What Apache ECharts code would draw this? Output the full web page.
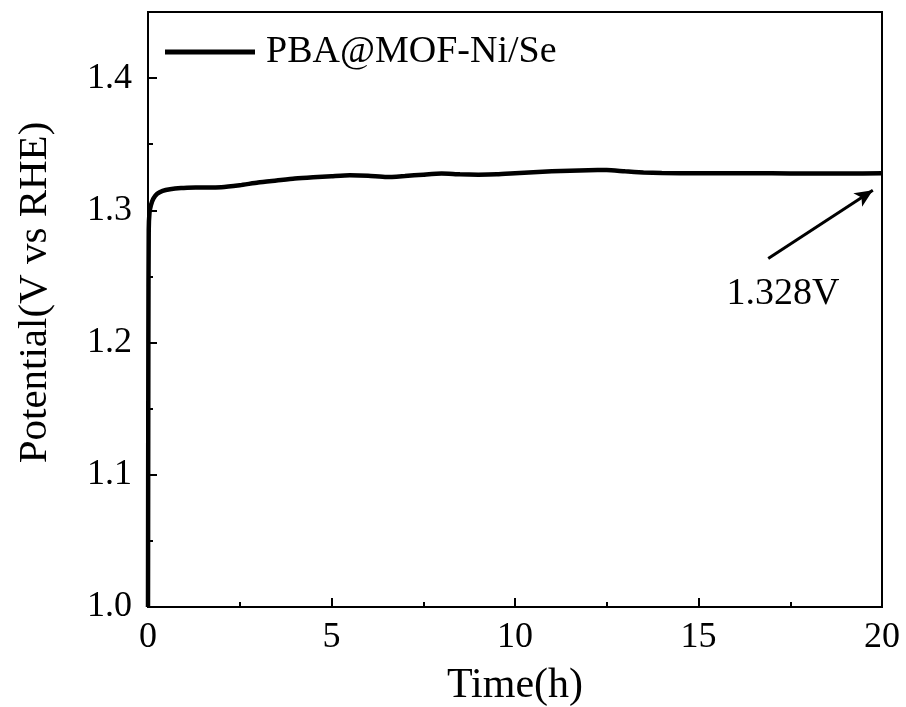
<!DOCTYPE html>
<html>
<head>
<meta charset="utf-8">
<script src="https://cdn.jsdelivr.net/npm/echarts@6/dist/echarts.min.js"></script>
<style>
  html, body { margin: 0; padding: 0; background: #fff; }
  #chart { width: 906px; height: 707px; }
</style>
</head>
<body>
<div id="chart"></div>
<script>
// chronopotentiometry curve
const timeH = [0, 0.01, 0.02, 0.04, 0.08, 0.15, 0.25, 0.4, 0.6, 0.9, 1.3, 2.0, 2.5, 3.0, 3.5, 4.0, 4.5, 5.0, 5.5, 6.0, 6.5, 7.0, 7.5, 8.0, 8.5, 9.0, 9.5, 10.0, 10.5, 11.0, 11.5, 12.0, 12.5, 13.0, 13.5, 14, 15, 16, 17, 18, 19, 20]
const potential = [1.000, 1.200, 1.285, 1.298, 1.304, 1.309, 1.3125, 1.3148, 1.316, 1.3168, 1.3172, 1.3175, 1.319, 1.321, 1.3225, 1.324, 1.325, 1.3258, 1.3265, 1.3262, 1.3252, 1.326, 1.327, 1.3278, 1.3272, 1.327, 1.3272, 1.328, 1.3288, 1.3295, 1.330, 1.3303, 1.3305, 1.3295, 1.3287, 1.3283, 1.328, 1.328, 1.328, 1.3278, 1.3278, 1.328]

const seriesName = 'PBA@MOF-Ni/Se'
const arrowFrom = [16.9, 1.2636]
const arrowTo = [19.75, 1.3152]
const noteAt = [17.3, 1.2364]
const noteText = '1.328V'

const font = '"Liberation Serif", "Times New Roman", serif'

const chart = echarts.init(document.getElementById('chart'))

chart.setOption({
  backgroundColor: '#fff',
  animation: false,
  grid: {
    left: 148, right: 24, top: 12, bottom: 100,
    outerBoundsMode: 'none',
    show: true, borderColor: '#000', borderWidth: 2, backgroundColor: 'transparent'
  },
  legend: {
    left: 160, top: 28,
    icon: 'rect', itemWidth: 90, itemHeight: 5,
    textStyle: { fontFamily: font, fontSize: 38, color: '#000', padding: [0, 0, 0, 6] },
    data: [seriesName]
  },
  xAxis: {
    type: 'value', min: 0, max: 20, interval: 5,
    name: 'Time(h)', nameLocation: 'middle', nameGap: 58,
    nameTextStyle: { fontFamily: font, fontSize: 42, color: '#000' },
    axisLine: { onZero: false, lineStyle: { color: '#000', width: 2 } },
    axisTick: { inside: true, length: 9, lineStyle: { color: '#000', width: 2 } },
    minorTick: { show: true, splitNumber: 2, length: 5, lineStyle: { color: '#000', width: 2 } },
    axisLabel: { fontFamily: font, fontSize: 36, color: '#000', margin: 13 },
    splitLine: { show: false }
  },
  yAxis: {
    type: 'value', min: 1.0, max: 1.45, interval: 0.1,
    name: 'Potential(V vs RHE)', nameLocation: 'middle', nameGap: 92,
    nameTextStyle: { fontFamily: font, fontSize: 41, color: '#000', padding: [0, 0, 0, 34] },
    axisLine: { show: true, onZero: false, lineStyle: { color: '#000', width: 2 } },
    axisTick: { show: true, inside: true, length: 9, lineStyle: { color: '#000', width: 2 } },
    minorTick: { show: true, splitNumber: 2, length: 5, lineStyle: { color: '#000', width: 2 } },
    axisLabel: {
      fontFamily: font, fontSize: 36, color: '#000', margin: 16,
      formatter: v => (v > 1.41 ? '' : v.toFixed(1))
    },
    splitLine: { show: false }
  },
  series: [{
    name: seriesName,
    type: 'line',
    data: timeH.map((t, i) => [t, potential[i]]),
    showSymbol: false,
    smooth: 0.2,
    lineStyle: { color: '#000', width: 4.5 },
    itemStyle: { color: '#000' },
    markLine: {
      silent: true,
      symbol: ['none', 'arrow'],
      symbolSize: [12, 18],
      label: { show: false },
      lineStyle: { color: '#000', width: 3, type: 'solid' },
      data: [[{ coord: arrowFrom }, { coord: arrowTo }]]
    },
    markPoint: {
      silent: true,
      symbol: 'circle', symbolSize: 0,
      label: {
        show: true, position: 'inside', formatter: noteText,
        fontFamily: font, fontSize: 38, color: '#000'
      },
      data: [{ coord: noteAt }]
    }
  }]
})
</script>
</body>
</html>
